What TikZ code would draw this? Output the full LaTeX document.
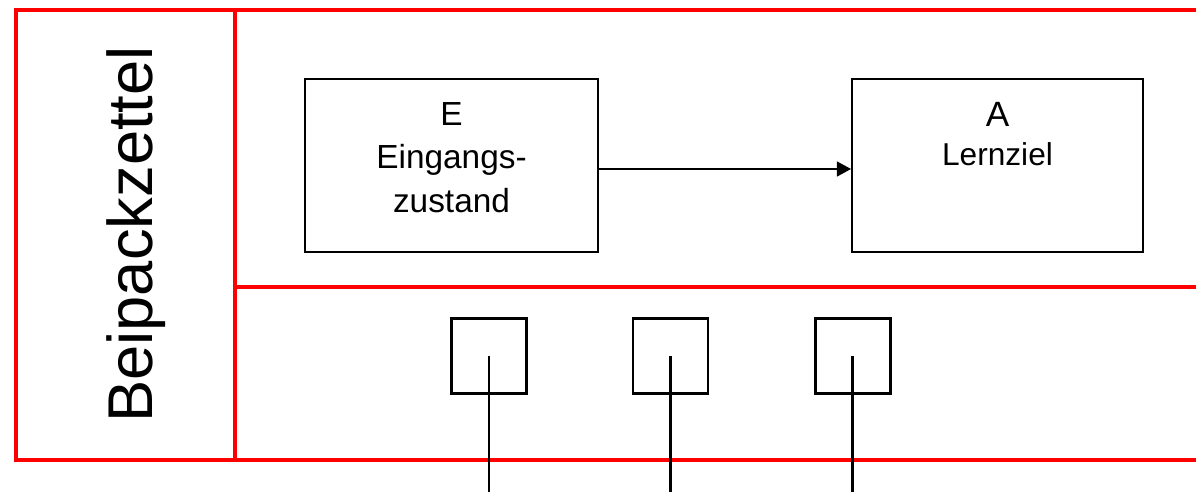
\documentclass[tikz,border=0pt]{standalone}
\usepackage{fontspec}
\setmainfont{Liberation Sans}
\usetikzlibrary{arrows.meta}

\begin{document}
\begin{tikzpicture}[
  frame/.style={draw=red, line width=2.3pt},
  zustandbox/.style={rectangle, draw, line width=1.1pt, minimum width=5.86cm, minimum height=3.46cm, inner sep=0pt},
  anker/.style={rectangle, draw, line width=1.7pt, minimum width=1.5cm, minimum height=1.5cm, inner sep=0pt},
  lernpfeil/.style={line width=0.8pt, -{Triangle[length=8pt,width=8.5pt]}}
]
\useasboundingbox (0,0) rectangle (23.92,9.84);

% Red frame
\draw[frame] (24,9.64) -- (0.32,9.64) -- (0.32,0.64) -- (24,0.64);
\draw[frame] (4.70,9.64) -- (4.70,0.64);
\draw[frame] (4.70,4.10) -- (24,4.10);

% Side title
\node[rotate=90, anchor=base, inner sep=0pt, font=\fontsize{36}{40}\selectfont] (titel) at (3.04,5.15) {Beipackzettel};

% Input and goal
\node[zustandbox] (eingang) at (9.03,6.53) {};
\node[align=center, inner sep=0pt, font=\fontsize{19}{24.6}\selectfont] (eingangtxt) at ([yshift=0.16cm]eingang.center) {E\\Eingangs-\\zustand};
\node[zustandbox, minimum width=5.82cm] (ziel) at (19.95,6.53) {};
\node[anchor=base, inner sep=0pt, font=\fontsize{20}{24}\selectfont] (zielA) at (19.95,7.31) {A};
\node[anchor=base, inner sep=0pt, font=\fontsize{18}{22}\selectfont] (zielL) at (19.95,6.53) {Lernziel};
\draw[lernpfeil] ([yshift=-0.07cm]eingang.east) -- ([yshift=-0.07cm]ziel.west);

% Anchors
\node[anker] (s1) at (9.78,2.72) {};
\node[anker] (s2) at (13.41,2.72) {};
\node[anker] (s3) at (17.05,2.72) {};
\coordinate (f1) at (9.78,0);
\coordinate (f2) at (13.41,0);
\coordinate (f3) at (17.05,0);
\draw[line width=1.7pt] (s1.center) -- (f1);
\draw[line width=1.7pt] (s2.center) -- (f2);
\draw[line width=1.7pt] (s3.center) -- (f3);

\end{tikzpicture}
\end{document}
